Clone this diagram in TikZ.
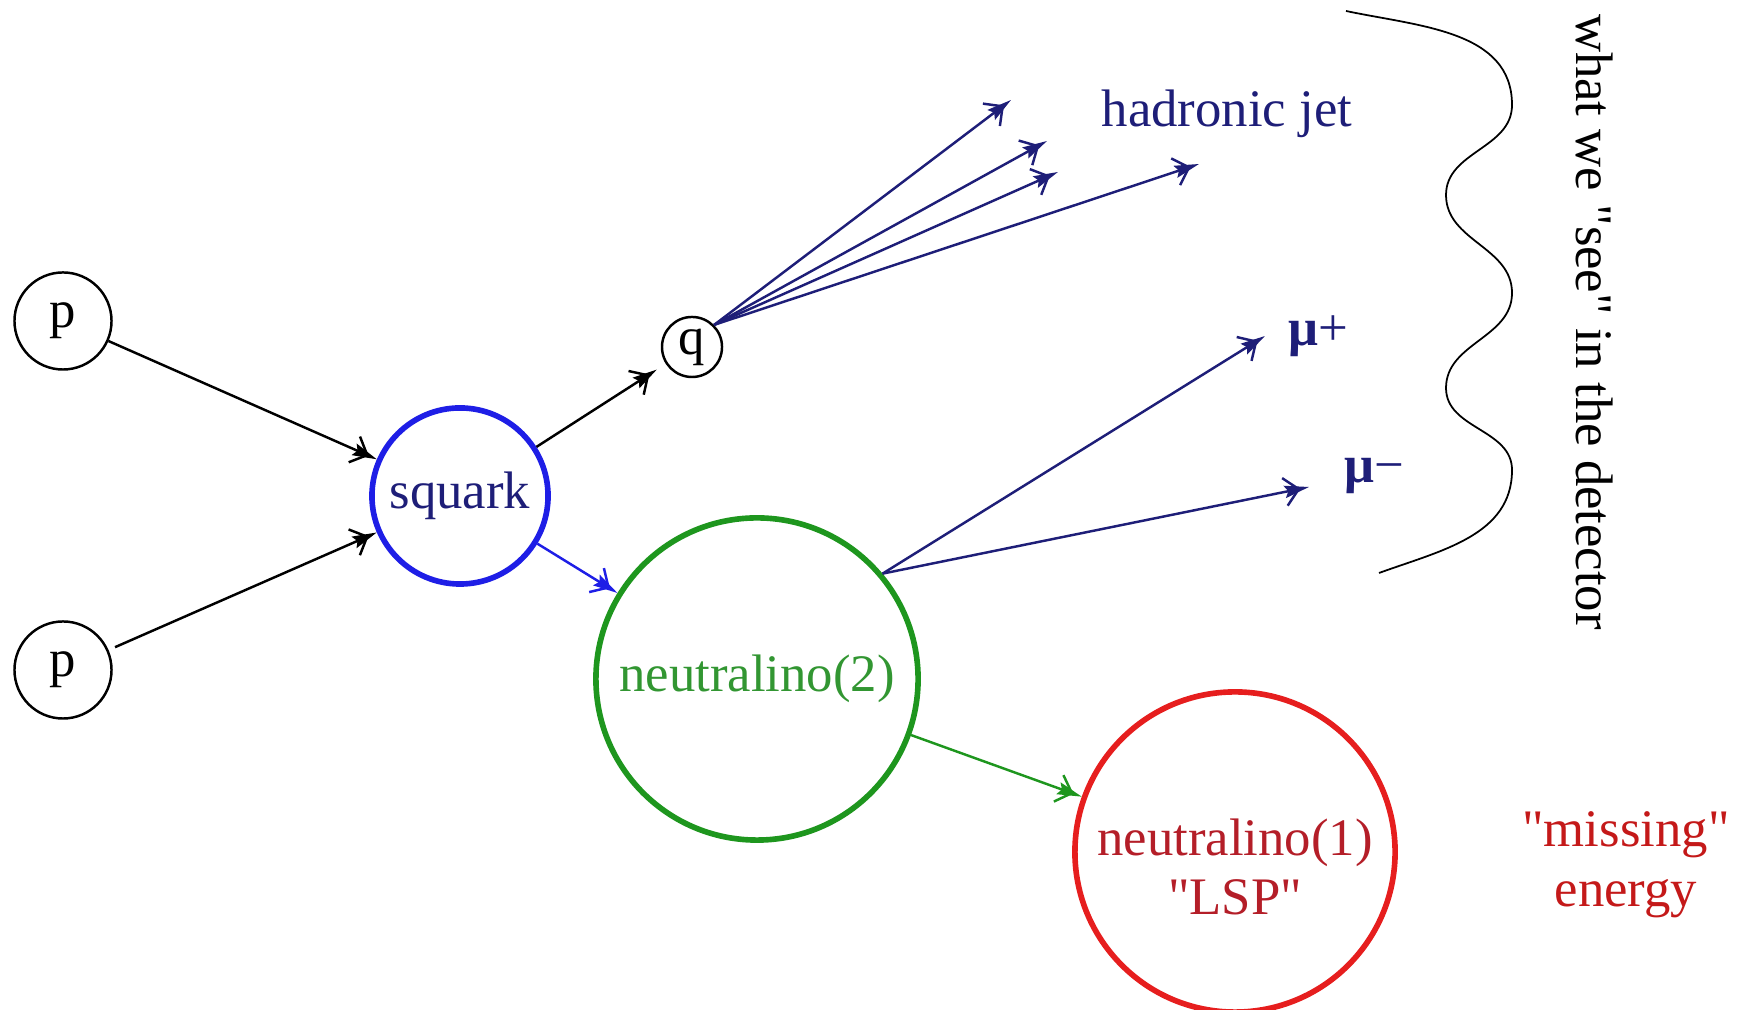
\documentclass[tikz,border=0pt]{standalone}
\usepackage{fontspec}
\setmainfont{Liberation Serif}
\usetikzlibrary{arrows.meta}
\definecolor{sqblue}{RGB}{30,30,230}
\definecolor{navy}{RGB}{30,30,120}
\definecolor{ngreen}{RGB}{30,150,30}
\definecolor{ngreentext}{RGB}{50,150,50}
\definecolor{nred}{RGB}{230,30,30}
\definecolor{nredtext}{RGB}{180,30,40}

\begin{document}
\begin{tikzpicture}[x=0.01cm,y=0.01cm,font=\fontsize{15}{17}\selectfont,
  ball/.style={circle,draw,line width=0.7pt,inner sep=0pt,minimum size=0.97cm},
  blob/.style={circle,draw,line width=1.6pt,inner sep=0pt},
  decay/.style={line width=0.7pt,-{Straight Barb[length=4pt,width=8pt,sep=-4.5pt]Stealth[length=7pt,width=3.5pt,inset=1pt]}}]
\useasboundingbox (0,0) rectangle (1737,1010);
% incoming protons and squark
\node[ball] (ptop) at (63,689) {p};
\node[ball] (pbot) at (63,340) {p};
\node[blob,draw=sqblue,text=navy,minimum size=1.76cm] (squark) at (460,514) {squark};
\node[ball,minimum size=0.6cm] (q) at (692,663) {q};
\draw[decay] (ptop) -- (squark);
\draw[decay,shorten <=2pt] (pbot) -- (squark);
\draw[decay,shorten >=3pt] (squark) -- (q);
% neutralinos
\node[blob,draw=ngreen,text=ngreentext,minimum size=3.22cm] (n2) at (757,331) {neutralino(2)};
\node[blob,draw=nred,minimum size=3.2cm] (n1) at (1235,158) {};
\node[align=center,text=nredtext] (n1txt) at (1235,143) {neutralino(1)\\\textquotedbl LSP\textquotedbl};
\draw[decay,draw=sqblue,fill=sqblue] (squark) -- (n2);
\draw[decay,draw=ngreen,fill=ngreen] (n2.-20) -- (n1);
% hadronic jet
\coordinate (j1) at (1011,910);
\coordinate (j2) at (1047,869);
\coordinate (j3) at (1058,838);
\coordinate (j4) at (1199,846);
\draw[decay,draw=navy,fill=navy] (q.45) -- (j1);
\draw[decay,draw=navy,fill=navy] (q.45) -- (j2);
\draw[decay,draw=navy,fill=navy] (q.45) -- (j3);
\draw[decay,draw=navy,fill=navy] (q.45) -- (j4);
\node[text=navy] (jet) at (1227,896) {hadronic jet};
% muons
\coordinate (mupend) at (1265,674);
\coordinate (mumend) at (1309,523);
\draw[decay,draw=navy,fill=navy] (n2.40) -- (mupend);
\draw[decay,draw=navy,fill=navy] (n2.40) -- (mumend);
\node[text=navy] (mup) at (1318,674) {\textbf{μ}+};
\node[text=navy] (mum) at (1374,534) {\textbf{μ}−};
% detector bracket
\draw[line width=0.5pt] (1346,999) to[out=-12,in=90] (1512,905) to[out=-90,in=90] (1446,815)
  to[out=-90,in=90] (1512,717) to[out=-90,in=90] (1446,622) to[out=-90,in=90] (1512,540)
  to[out=-90,in=20] (1379,437);
\node[rotate=-90] (see) at (1595,688) {what we \textquotedbl see\textquotedbl\ in the detector};
\node[align=center,text=nred!85!black] (missing) at (1626,145) {\textquotedbl missing\textquotedbl\\energy};
\end{tikzpicture}
\end{document}
